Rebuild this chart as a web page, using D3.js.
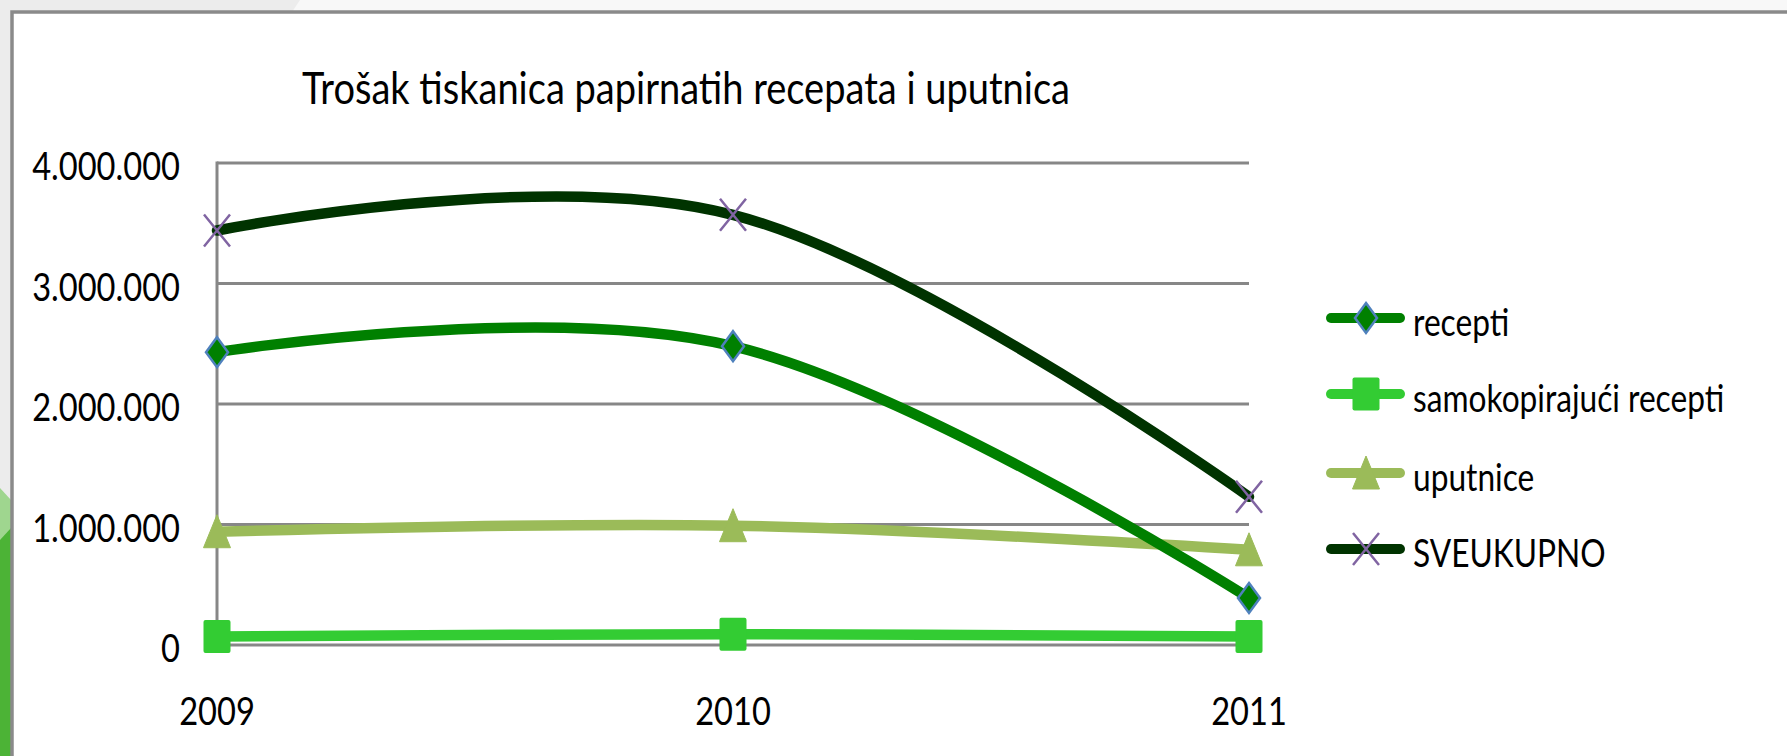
<!DOCTYPE html>
<html>
<head>
<meta charset="utf-8">
<script src="https://cdn.jsdelivr.net/npm/d3@7"></script>
<style>
  html, body { margin: 0; padding: 0; background: #ededed; overflow: hidden; }
  svg { display: block; }
  text { font-family: Lato, "Noto Sans", sans-serif; fill: #000; }
</style>
</head>
<body>
<svg id="chart" width="1787" height="756"></svg>
<script>
// ---- data ----
const title = "Trošak tiskanica papirnatih recepata i uputnica";
const years = ["2009", "2010", "2011"];
const recepti = [2430000, 2480000, 390000];
const samokopirajuci = [70000, 90000, 70000];
const uputnice = [940000, 990000, 790000];
const sveukupno = [3440000, 3570000, 1230000];
const seriesNames = ["recepti", "samokopirajući recepti", "uputnice", "SVEUKUPNO"];
const yTicks = [0, 1000000, 2000000, 3000000, 4000000];
const yTickLabels = ["0", "1.000.000", "2.000.000", "3.000.000", "4.000.000"];

const seriesValues = [recepti, samokopirajuci, uputnice, sveukupno];
const seriesColors = ["#008000", "#33cc33", "#9bbb59", "#003300"];
const seriesMarkers = ["diamond", "square", "triangle", "x"];

const W = 1787, H = 756;
const svg = d3.select("#chart");

// ---- background ----
svg.append("rect").attr("x", 0).attr("y", 0).attr("width", W).attr("height", H).attr("fill", "#ececec");
svg.append("path").attr("d", "M300,0 L1787,0 L1787,12 L292,12 Z").attr("fill", "#f8f8f8");
svg.append("path").attr("d", "M0,488 L11,500 L11,756 L0,756 Z").attr("fill", "#9fd68f");
svg.append("path").attr("d", "M0,540 L11,528 L11,756 L0,756 Z").attr("fill", "#4cb336");
svg.append("rect").attr("x", 12).attr("y", 12).attr("width", W + 20).attr("height", H + 20)
  .attr("fill", "#ffffff").attr("stroke", "#8a8a8a").attr("stroke-width", 3.5);

// ---- scales ----
const plotL = 217, plotR = 1249, plotT = 163, plotB = 645;
const x = d3.scalePoint().domain(years).range([plotL, plotR]).padding(0);
const y = d3.scaleLinear().domain([0, 4000000]).range([plotB, plotT]);

function addText(parent, px, py, str, size, anchor, sx, sy) {
  return parent.append("text")
    .attr("transform", `translate(${px},${py}) scale(${sx},${sy})`)
    .attr("font-size", size)
    .attr("text-anchor", anchor)
    .text(str);
}

// ---- gridlines ----
const grid = svg.append("g");
grid.selectAll("line.g").data(yTicks).join("line")
  .attr("x1", plotL).attr("x2", plotR)
  .attr("y1", d => y(d)).attr("y2", d => y(d))
  .attr("stroke", "#878787").attr("stroke-width", 3);
grid.append("line").attr("x1", plotL).attr("x2", plotL).attr("y1", plotT - 1.5).attr("y2", plotB + 1.5)
  .attr("stroke", "#878787").attr("stroke-width", 3);

// ---- axis labels ----
const axisG = svg.append("g");
yTicks.forEach((t, i) => addText(axisG, 180, y(t) + 17, yTickLabels[i], 34, "end", 0.96, 1.15));
years.forEach(yr => addText(axisG, x(yr), 725, yr, 34, "middle", 0.96, 1.15));

// ---- title ----
addText(svg, 686, 104, title, 39, "middle", 0.975, 1.15);

// ---- markers ----
function drawMarker(g, type, cx, cy, color) {
  if (type === "diamond") {
    g.append("path").attr("d", `M${cx},${cy - 15} L${cx + 11},${cy} L${cx},${cy + 15} L${cx - 11},${cy} Z`)
      .attr("fill", color).attr("stroke", "#4f81bd").attr("stroke-width", 2.5);
  } else if (type === "square") {
    g.append("rect").attr("x", cx - 13.5).attr("y", cy - 16.5).attr("width", 27).attr("height", 33)
      .attr("rx", 2).attr("fill", color);
  } else if (type === "triangle") {
    g.append("path").attr("d", `M${cx},${cy - 17} L${cx + 13.5},${cy + 16} L${cx - 13.5},${cy + 16} Z`)
      .attr("fill", "#9bbb59").attr("stroke", "#9bbb59").attr("stroke-width", 1).attr("stroke-linejoin", "round");
  } else if (type === "x") {
    g.append("path").attr("d", `M${cx - 13},${cy - 16} L${cx + 13},${cy + 16} M${cx - 13},${cy + 16} L${cx + 13},${cy - 16}`)
      .attr("stroke", "#8064a2").attr("stroke-width", 2.5).attr("fill", "none");
  }
}

// ---- lines ----
const line = d3.line()
  .x((d, i) => x(years[i]))
  .y(d => y(d))
  .curve(d3.curveCardinal.tension(-0.1));

const order = [2, 1, 0, 3];
const linesG = svg.append("g");
order.forEach(si => {
  linesG.append("path").datum(seriesValues[si])
    .attr("d", line)
    .attr("fill", "none")
    .attr("stroke", seriesColors[si])
    .attr("stroke-width", 10.5)
    .attr("stroke-linecap", "round");
});
const markersG = svg.append("g");
order.forEach(si => {
  seriesValues[si].forEach((v, i) => drawMarker(markersG, seriesMarkers[si], x(years[i]), y(v), seriesColors[si]));
});

// ---- legend ----
const legendG = svg.append("g");
const legendRows = [318, 394, 473, 549];
seriesNames.forEach((name, si) => {
  const ly = legendRows[si];
  legendG.append("line").attr("x1", 1331).attr("x2", 1400).attr("y1", ly).attr("y2", ly)
    .attr("stroke", seriesColors[si]).attr("stroke-width", 10).attr("stroke-linecap", "round");
  drawMarker(legendG, seriesMarkers[si], 1366, ly, seriesColors[si]);
  addText(legendG, 1413, ly + 18, name, 33, "start", 0.96, 1.15);
});
</script>
</body>
</html>
